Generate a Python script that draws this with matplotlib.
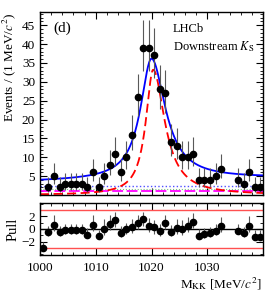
import numpy as np
import matplotlib
matplotlib.use("Agg")
import matplotlib.pyplot as plt
from matplotlib.ticker import MultipleLocator, FixedLocator

plt.rcParams['font.family'] = ['Liberation Serif', 'DejaVu Serif']
plt.rcParams['mathtext.fontset'] = 'stix'

# Datos (bins de 1 MeV)
bin_centres = np.arange(1000.5, 1040.0, 1.0)
counts = [0, 2, 5, 2, 3, 3, 3, 3, 2, 6,
          2, 5, 8, 11, 6, 10, 16, 26, 39, 39,
          37, 28, 27, 14, 13, 10, 10, 11, 4, 4,
          4, 5, 7, 0, 0, 4, 3, 6, 2, 2]
pulls = [-3.0, -0.55, 0.65, -0.55, -0.2, -0.2, -0.2, -0.2, -0.9, 0.65,
         -1.1, 0.0, 0.85, 1.35, -0.6, -0.05, 0.3, 1.0, 1.55, 0.55,
         0.25, -0.25, 1.0, -0.4, 0.2, 0.0, 0.45, 1.15, -1.05, -0.85,
         -0.7, -0.25, 0.5, np.nan, np.nan, -0.25, -0.7, 0.5, -1.2, -1.2]

# Parametros de las curvas del ajuste (leidos a ojo)
sig_mass, sig_peak, sig_wl, sig_wr = 1020.3, 33.2, 1.6, 2.5
tot_mass, tot_peak, tot_wl, tot_wr = 1020.0, 32.1, 2.4, 3.0
bkg_start, bkg_end = 3.6, 4.5
comb_level = 2.3
green_level = 1.6
other_level = 1.1


def lorentz_split(m, m0, a, wl, wr):
    w = np.where(m < m0, wl, wr)
    return a / (1 + ((m - m0) / w) ** 2)


def gehrels(n):
    n = np.asarray(n, dtype=float)
    hi = np.sqrt(n + 0.75) + 1.0
    with np.errstate(divide='ignore', invalid='ignore'):
        lo = n - n * (1 - 1 / (9 * n) - 1 / (3 * np.sqrt(n))) ** 3
    lo = np.where(n > 0, lo, 0.0)
    return lo, hi


m = np.linspace(1000, 1040, 800)
sig = lorentz_split(m, sig_mass, sig_peak, sig_wl, sig_wr)
bkg = bkg_start + (bkg_end - bkg_start) * (m - 1000) / 40
total = lorentz_split(m, tot_mass, tot_peak, tot_wl, tot_wr) + bkg

fig = plt.figure(figsize=(2.79, 2.94), dpi=100)
ax = fig.add_axes([0.1434, 0.3367, 0.7993, 0.6223])
axp = fig.add_axes([0.1434, 0.1327, 0.7993, 0.1768])

counts = np.array(counts)
lo, hi = gehrels(counts)
shown = counts > 0
ax.plot(m, np.full_like(m, comb_level), color='#5050ff', ls=':', lw=1.0)
ax.plot(m, np.full_like(m, green_level), color='#80c080', ls=':', lw=0.8)
ax.plot(m, np.full_like(m, other_level), color='#ff00ff', lw=1.3, dashes=(6, 2))
ax.plot(m, sig, color='red', lw=1.3, dashes=(5, 2.5))
ax.plot(m, total, color='blue', lw=1.3)
ax.errorbar(bin_centres[shown], counts[shown], yerr=[lo[shown], hi[shown]],
            fmt='o', color='black', ecolor='0.35', elinewidth=0.8, ms=4.5, capsize=0)

ax.set_xlim(1000, 1040)
ax.set_ylim(0, 48.5)
ax.yaxis.set_major_locator(FixedLocator([5, 10, 15, 20, 25, 30, 35, 40, 45]))
ax.yaxis.set_minor_locator(MultipleLocator(1))
ax.xaxis.set_major_locator(MultipleLocator(10))
ax.xaxis.set_minor_locator(MultipleLocator(2))
ax.set_xticklabels([])
ax.set_ylabel('Events / (1 MeV/$c^2$)', fontsize=9.5, loc='top')
ax.yaxis.set_label_coords(-0.1, 0.995)
ax.text(0.06, 0.89, '(d)', transform=ax.transAxes, fontsize=11)
ax.text(0.595, 0.89, 'LHCb', transform=ax.transAxes, fontsize=9)
ax.text(0.595, 0.79, r'Downstream $K_{\rm S}$', transform=ax.transAxes, fontsize=9)

pulls = np.array(pulls)
p_ok = ~np.isnan(pulls)
ratio_lo = np.divide(lo, hi, out=np.ones_like(lo), where=hi > 0)
ratio_hi = np.divide(hi, lo, out=np.ones_like(hi), where=lo > 0)
plo = np.where(pulls >= 0, 1.0, ratio_lo)
phi_ = np.where(pulls >= 0, ratio_hi, 1.0)
axp.axhline(3, color='#ff5050', lw=1.0)
axp.axhline(-3, color='#ff5050', lw=1.0)
axp.axhline(0, color='black', lw=1.0)
axp.errorbar(bin_centres[p_ok], pulls[p_ok], yerr=[plo[p_ok], phi_[p_ok]],
             fmt='o', color='black', ecolor='0.35', elinewidth=0.8, ms=4.5, capsize=0)
axp.set_xlim(1000, 1040)
axp.set_ylim(-4.1, 4.1)
axp.yaxis.set_major_locator(FixedLocator([-2, 0, 2]))
axp.yaxis.set_minor_locator(MultipleLocator(1))
axp.xaxis.set_major_locator(FixedLocator([1000, 1010, 1020, 1030]))
axp.xaxis.set_minor_locator(MultipleLocator(2))
axp.set_ylabel('Pull', fontsize=10.5)
axp.yaxis.set_label_coords(-0.09, 0.5)
fig.text(0.94, 0.035, r'M$_{\rm KK}$ [MeV/$c^2$]', fontsize=9.5, ha='right', va='center')

for a in (ax, axp):
    a.tick_params(which='both', direction='in', top=True, right=True, labelsize=9.5)
    a.tick_params(which='major', length=5, width=0.8)
    a.tick_params(which='minor', length=2.5, width=0.6)
    for s in a.spines.values():
        s.set_linewidth(1.0)
axp.tick_params(axis='x', pad=5)

fig.savefig('out.png', dpi=100)
